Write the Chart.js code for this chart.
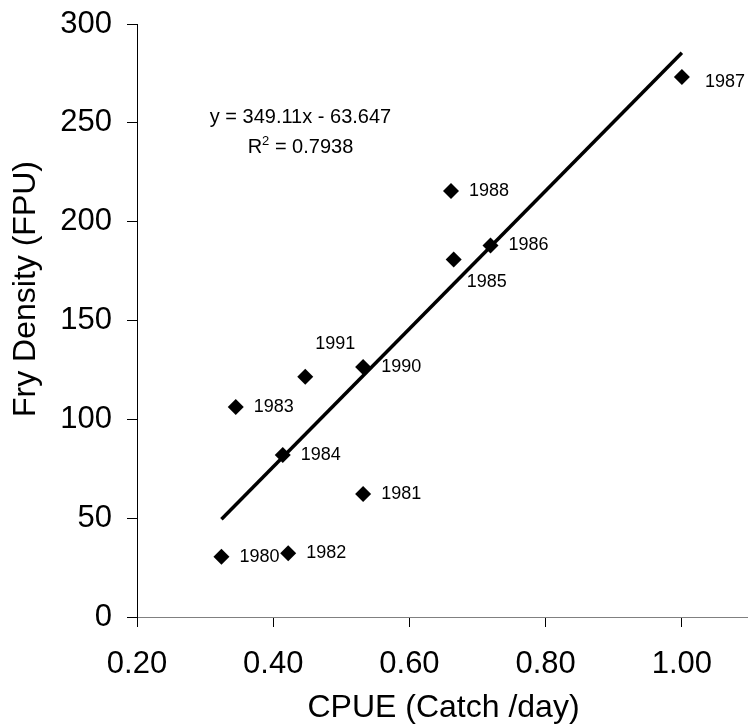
<!DOCTYPE html>
<html>
<head>
<meta charset="utf-8">
<script src="https://cdn.jsdelivr.net/npm/chart.js@4/dist/chart.umd.min.js"></script>
<style>
    html, body { margin: 0; padding: 0; background: #fff; overflow: hidden; }
    #wrap { position: relative; width: 758px; height: 727px; }
</style>
</head>
<body>
<div id="wrap"><canvas id="fryChart"></canvas></div>
<script>
// Data
const years = ['1980', '1981', '1982', '1983', '1984', '1985', '1986', '1987', '1988', '1990', '1991'];
const cpue = [0.324, 0.532, 0.422, 0.345, 0.414, 0.665, 0.719, 1.0, 0.661, 0.532, 0.447];
const fryDensity = [30.5, 62.2, 32.2, 106.2, 82.0, 180.8, 188.0, 273.2, 215.5, 126.5, 121.5];

// Trend line ends (y = 349.11x - 63.647)
const trendX = [0.324, 1.0];
const trendY = [49.5, 285.5];

const xTicks = [0.2, 0.4, 0.6, 0.8, 1.0];
const yTicks = [0, 50, 100, 150, 200, 250, 300];

const yTitle = 'Fry Density (FPU)';
const equationText = 'y = 349.11x - 63.647';
const r2Value = '0.7938';

// Label nudges in px (layout only)
const labelNudge = {
    '1985': [13, 22],
    '1987': [23, 5],
    '1991': [10, -33]
};

const FONT = '"Liberation Sans", Arial, sans-serif';

const pointLabels = {
    id: 'pointLabels',
    afterDatasetsDraw(chart) {
        const ctx = chart.ctx;
        const xs = chart.scales.x;
        const ys = chart.scales.y;
        ctx.save();
        ctx.fillStyle = '#000';
        ctx.font = '18px ' + FONT;
        ctx.textAlign = 'left';
        ctx.textBaseline = 'middle';
        years.forEach((yr, i) => {
            const nudge = labelNudge[yr] || [18, 0];
            const px = xs.getPixelForValue(cpue[i]);
            const py = ys.getPixelForValue(fryDensity[i]);
            ctx.fillText(yr, px + nudge[0], py + nudge[1]);
        });

        // Trend equation, centred over x = 0.44
        const cx = xs.getPixelForValue(0.44);
        const ey = ys.getPixelForValue(253);
        ctx.font = '20px ' + FONT;
        ctx.textBaseline = 'alphabetic';
        ctx.textAlign = 'center';
        ctx.fillText(equationText, cx, ey + 6);

        // R² line
        const rY = ey + 36;
        ctx.textAlign = 'left';
        const wR = ctx.measureText('R').width;
        const rest = ' = ' + r2Value;
        const wRest = ctx.measureText(rest).width;
        ctx.font = '13px ' + FONT;
        const wSup = ctx.measureText('2').width;
        const total = wR + wSup + wRest;
        let sx = cx - total / 2;
        ctx.font = '20px ' + FONT;
        ctx.fillText('R', sx, rY);
        sx += wR;
        ctx.font = '13px ' + FONT;
        ctx.fillText('2', sx, rY - 8);
        sx += wSup;
        ctx.font = '20px ' + FONT;
        ctx.fillText(rest, sx, rY);

        // y axis title, sits a little above the plot centre like the original
        ctx.save();
        ctx.translate(26, 289);
        ctx.rotate(-Math.PI / 2);
        ctx.font = '32px ' + FONT;
        ctx.textAlign = 'center';
        ctx.textBaseline = 'middle';
        ctx.fillText(yTitle, 0, 0);
        ctx.restore();
        ctx.restore();
    }
};

const ctx = document.getElementById('fryChart').getContext('2d');
new Chart(ctx, {
    type: 'scatter',
    data: {
        datasets: [
            {
                label: 'Fry density',
                data: cpue.map((x, i) => ({ x: x, y: fryDensity[i] })),
                pointStyle: 'rectRot',
                pointRadius: 8,
                pointHoverRadius: 8,
                backgroundColor: '#000',
                borderColor: '#000',
                borderWidth: 0,
                order: 1
            },
            {
                type: 'line',
                label: 'Linear trend',
                data: trendX.map((x, i) => ({ x: x, y: trendY[i] })),
                borderColor: '#000',
                borderWidth: 3.5,
                pointRadius: 0,
                fill: false,
                order: 2
            }
        ]
    },
    options: {
        responsive: true,
        maintainAspectRatio: false,
        animation: false,
        layout: { padding: { top: 24, right: 0, bottom: 0, left: 0 } },
        plugins: {
            legend: { display: false },
            tooltip: { enabled: false }
        },
        scales: {
            x: {
                type: 'linear',
                min: 0.2,
                max: 1.1,
                afterBuildTicks: scale => {
                    scale.ticks = xTicks.map(v => ({ value: v }));
                },
                afterFit: scale => {
                    scale.height = 110;
                    scale.paddingLeft = 0;
                    scale.paddingRight = 0;
                },
                border: { color: '#808080', width: 1 },
                grid: {
                    drawOnChartArea: false,
                    drawTicks: true,
                    tickLength: 10,
                    tickColor: '#000',
                    tickWidth: 1
                },
                ticks: {
                    color: '#000',
                    font: { family: FONT, size: 31 },
                    padding: 19,
                    maxRotation: 0,
                    callback: v => Number(v).toFixed(2)
                },
                title: {
                    display: true,
                    text: 'CPUE (Catch /day)',
                    color: '#000',
                    font: { family: FONT, size: 32 },
                    padding: { top: 0, bottom: 0 }
                }
            },
            y: {
                min: 0,
                max: 300,
                afterBuildTicks: scale => {
                    scale.ticks = yTicks.map(v => ({ value: v }));
                },
                afterFit: scale => {
                    scale.width = 137;
                    scale.paddingTop = 0;
                    scale.paddingBottom = 0;
                },
                border: { color: '#000', width: 1 },
                grid: {
                    drawOnChartArea: false,
                    drawTicks: true,
                    tickLength: 10,
                    tickColor: '#000',
                    tickWidth: 1
                },
                ticks: {
                    color: '#000',
                    font: { family: FONT, size: 31 },
                    padding: 15
                }
            }
        }
    },
    plugins: [pointLabels]
});
</script>
</body>
</html>
